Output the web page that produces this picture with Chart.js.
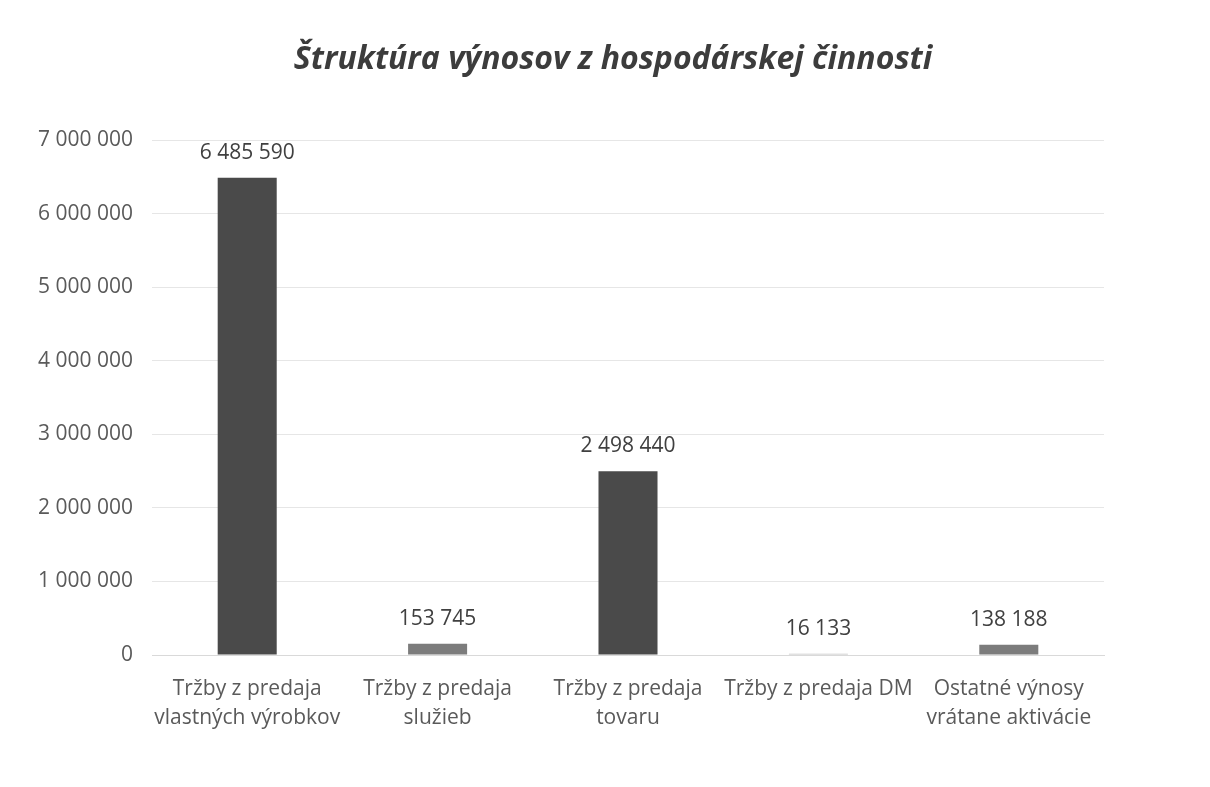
<!DOCTYPE html>
<html lang="sk">
<head>
  <meta charset="UTF-8" />
  <title>Štruktúra výnosov z hospodárskej činnosti</title>
  <script src="https://cdn.jsdelivr.net/npm/chart.js"></script>
  <style>
    html, body { margin: 0; padding: 0; background: #fff; }
    #wrap { width: 1210px; height: 787px; position: relative; }
  </style>
</head>
<body>
  <div id="wrap"><canvas id="graf"></canvas></div>

  <script>
    // údaje z grafu
    const nadpis = 'Štruktúra výnosov z hospodárskej činnosti';
    const kategorie = [
      ['Tržby z predaja', 'vlastných výrobkov'],
      ['Tržby z predaja', 'služieb'],
      ['Tržby z predaja', 'tovaru'],
      'Tržby z predaja DM',
      ['Ostatné výnosy', 'vrátane aktivácie']
    ];
    const hodnoty = [6485590, 153745, 2498440, 16133, 138188];
    const farby = ['#4a4a4a', '#7c7c7c', '#4a4a4a', '#c4c4c4', '#7c7c7c'];
    const yTicky = [0, 1000000, 2000000, 3000000, 4000000, 5000000, 6000000, 7000000];

    const pismo = '"Open Sans", Lato, sans-serif';
    const formatCislo = v => String(Math.round(v)).replace(/\B(?=(\d{3})+(?!\d))/g, ' ');

    // popisky hodnôt nad stĺpcami + nadpis
    const popisky = {
      id: 'popisky',
      afterDatasetsDraw(chart) {
        const ctx = chart.ctx;
        const meta = chart.getDatasetMeta(0);
        ctx.save();
        ctx.font = '21px ' + pismo;
        ctx.fillStyle = '#404040';
        ctx.textAlign = 'center';
        ctx.textBaseline = 'middle';
        meta.data.forEach((bar, i) => {
          ctx.fillText(formatCislo(hodnoty[i]), bar.x, bar.y - 25);
        });
        ctx.font = 'italic bold 32px ' + pismo;
        ctx.fillStyle = '#3c3c3c';
        ctx.fillText(nadpis, 613, 60);
        ctx.restore();
      }
    };

    new Chart(document.getElementById('graf'), {
      type: 'bar',
      data: {
        labels: kategorie,
        datasets: [{ data: hodnoty, backgroundColor: farby, barPercentage: 0.62, categoryPercentage: 0.5 }]
      },
      options: {
        responsive: true,
        maintainAspectRatio: false,
        animation: false,
        layout: { padding: { top: 140, right: 106, bottom: 0, left: 0 } },
        plugins: {
          legend: { display: false },
          tooltip: { enabled: false },
          title: { display: false }
        },
        scales: {
          x: {
            afterFit(s) { s.height = 132; },
            grid: { display: false },
            border: { color: '#d9d9d9' },
            ticks: {
              color: '#5a5a5a',
              font: { family: pismo, size: 21, lineHeight: 1.4 },
              padding: 11,
              maxRotation: 0,
              autoSkip: false
            }
          },
          y: {
            min: 0,
            max: 7000000,
            afterBuildTicks(s) { s.ticks = yTicky.map(v => ({ value: v })); },
            afterFit(s) { s.width = 152; },
            grid: { color: '#e6e6e6', drawTicks: false },
            border: { display: false },
            ticks: {
              color: '#5a5a5a',
              font: { family: pismo, size: 21 },
              padding: 19,
              callback: v => formatCislo(v)
            }
          }
        }
      },
      plugins: [popisky]
    });
  </script>
</body>
</html>
